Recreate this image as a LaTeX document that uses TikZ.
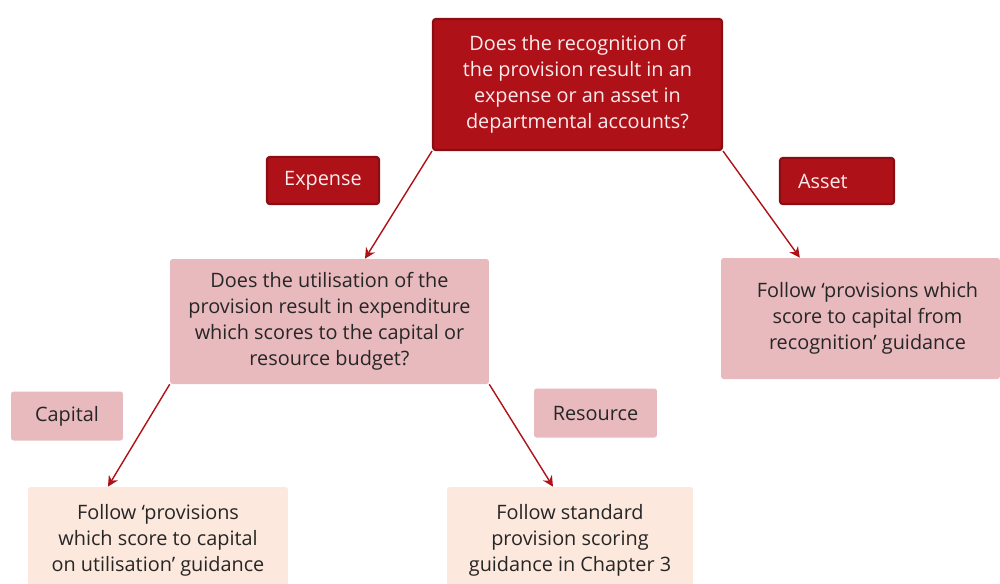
\documentclass[tikz,border=0pt]{standalone}
\usepackage{fontspec}
\setmainfont{Open Sans}
\usetikzlibrary{arrows.meta,calc}
\definecolor{boxred}{HTML}{AF1118}
\definecolor{edgered}{HTML}{8A0D12}
\definecolor{boxpink}{HTML}{E8B9BD}
\definecolor{boxpeach}{HTML}{FCE8DC}
\definecolor{inkdark}{HTML}{262626}

\begin{document}
\begin{tikzpicture}[> = {Stealth[length=6pt,width=6pt]}, x=0.02cm, y=-0.02cm,
		every node/.style={font=\fontsize{11.3}{14.8}\selectfont, align=center, inner sep=0pt, rounded corners=1.5pt},
		redbox/.style={fill=boxred, draw=edgered, line width=1.2pt, text=white!92!boxred},
		pinkbox/.style={fill=boxpink, text=inkdark},
		peachbox/.style={fill=boxpeach, text=inkdark},
		link/.style={->, draw=boxred, line width=0.8pt}]
		\clip (0,0) rectangle (1000,583);
		% first question and its answers
		\node[redbox, minimum width=5.78cm, minimum height=2.62cm] (recog) at (577.5,84.5) {Does the recognition of\\the provision result in an\\expense or an asset in\\departmental accounts?};
		\node[redbox, minimum width=2.24cm, minimum height=0.94cm] (expense) at (323,180.5) {Expense};
		\node[redbox, minimum width=2.28cm, minimum height=0.92cm, text width=1.56cm, align=left, inner xsep=0.36cm] (asset) at (837,181) {Asset};
		% second question
		\node[pinkbox, minimum width=6.38cm, minimum height=2.5cm] (utilise) at (329.5,321.5) {Does the utilisation of the\\provision result in expenditure\\which scores to the capital or\\resource budget?};
		\node[pinkbox, minimum width=5.58cm, minimum height=2.42cm] (fromrecog) at (860.5,318.5) {\hspace{0.28cm}Follow ‘provisions which\\\hspace{0.28cm}score to capital from\\\hspace{0.28cm}recognition’ guidance};
		\node[pinkbox, minimum width=2.24cm, minimum height=0.98cm] (capital) at (67,416) {Capital};
		\node[pinkbox, minimum width=2.46cm, minimum height=0.98cm] (resource) at (595.5,413) {Resource};
		% outcomes
		\node[peachbox, minimum width=5.2cm, minimum height=2.14cm] (onutil) at (158,540.5) {Follow ‘provisions\\which score to capital\\on utilisation’ guidance};
		\node[peachbox, minimum width=4.92cm, minimum height=2.14cm] (standard) at (570,540.5) {Follow standard\\provision scoring\\guidance in Chapter 3};
		% arrows
		\draw[link] (recog.south west) -- ($(utilise.north west)!0.611!(utilise.north east)$);
		\draw[link] (recog.south east) -- ($(fromrecog.north west)!0.283!(fromrecog.north east)$);
		\draw[link] (utilise.south west) -- ($(onutil.north west)!0.308!(onutil.north east)$);
		\draw[link] (utilise.south east) -- ($(standard.north west)!0.431!(standard.north east)$);
	\end{tikzpicture}
\end{document}
